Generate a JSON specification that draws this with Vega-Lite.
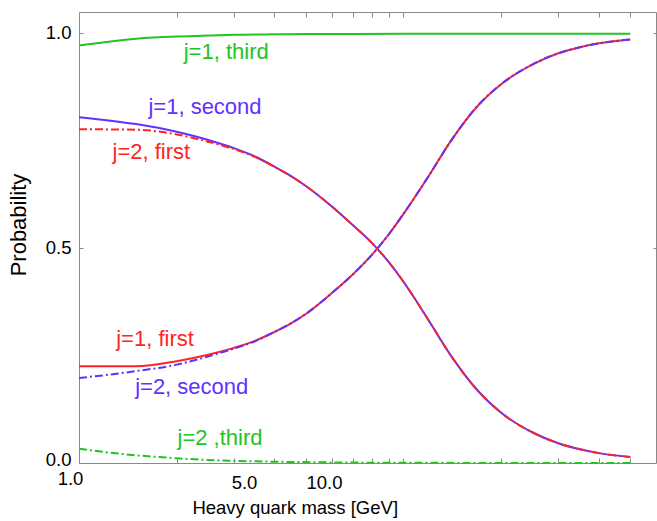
{
  "$schema": "https://vega.github.io/schema/vega-lite/v6.json",
  "autosize": {"type": "none"},
  "padding": {"left": 79, "top": 12, "right": 1, "bottom": 58},
  "width": 577,
  "height": 451,
  "background": "white",
  "config": {
    "view": {"stroke": "#8a8a8a", "strokeWidth": 1},
    "font": "Liberation Sans",
    "axis": {"grid": false, "domain": false, "tickColor": "#8a8a8a", "tickWidth": 1, "labelColor": "black", "titleColor": "black", "labelFont": "Liberation Sans", "titleFont": "Liberation Sans", "titleFontWeight": "normal"}
  },
  "datasets": {
    "curves": [
      {"s": "j=1, third", "dash": "solid", "x": 1, "y": 0.972},
      {"s": "j=1, third", "dash": "solid", "x": 1.5, "y": 0.988},
      {"s": "j=1, third", "dash": "solid", "x": 2, "y": 0.993},
      {"s": "j=1, third", "dash": "solid", "x": 2.5, "y": 0.995},
      {"s": "j=1, third", "dash": "solid", "x": 3, "y": 0.997},
      {"s": "j=1, third", "dash": "solid", "x": 4, "y": 0.998},
      {"s": "j=1, third", "dash": "solid", "x": 5, "y": 0.9985},
      {"s": "j=1, third", "dash": "solid", "x": 7, "y": 0.999},
      {"s": "j=1, third", "dash": "solid", "x": 10, "y": 0.9992},
      {"s": "j=1, third", "dash": "solid", "x": 20, "y": 0.9995},
      {"s": "j=1, third", "dash": "solid", "x": 50, "y": 0.9995},

      {"s": "j=1, second", "dash": "solid", "x": 1, "y": 0.805},
      {"s": "j=1, second", "dash": "solid", "x": 1.25, "y": 0.797},
      {"s": "j=1, second", "dash": "solid", "x": 1.5, "y": 0.789},
      {"s": "j=1, second", "dash": "solid", "x": 2, "y": 0.771},
      {"s": "j=1, second", "dash": "solid", "x": 2.5, "y": 0.752},
      {"s": "j=1, second", "dash": "solid", "x": 3, "y": 0.733},
      {"s": "j=1, second", "dash": "solid", "x": 3.5, "y": 0.713},
      {"s": "j=1, second", "dash": "solid", "x": 4, "y": 0.69},
      {"s": "j=1, second", "dash": "solid", "x": 4.5, "y": 0.668},
      {"s": "j=1, second", "dash": "solid", "x": 5, "y": 0.645},
      {"s": "j=1, second", "dash": "solid", "x": 6, "y": 0.598},
      {"s": "j=1, second", "dash": "solid", "x": 7, "y": 0.553},
      {"s": "j=1, second", "dash": "solid", "x": 8, "y": 0.512},
      {"s": "j=1, second", "dash": "solid", "x": 9, "y": 0.468},
      {"s": "j=1, second", "dash": "solid", "x": 10, "y": 0.422},
      {"s": "j=1, second", "dash": "solid", "x": 12, "y": 0.33},
      {"s": "j=1, second", "dash": "solid", "x": 14, "y": 0.25},
      {"s": "j=1, second", "dash": "solid", "x": 17, "y": 0.167},
      {"s": "j=1, second", "dash": "solid", "x": 20, "y": 0.117},
      {"s": "j=1, second", "dash": "solid", "x": 25, "y": 0.071},
      {"s": "j=1, second", "dash": "solid", "x": 30, "y": 0.046},
      {"s": "j=1, second", "dash": "solid", "x": 35, "y": 0.032},
      {"s": "j=1, second", "dash": "solid", "x": 40, "y": 0.023},
      {"s": "j=1, second", "dash": "solid", "x": 50, "y": 0.014},

      {"s": "j=1, first", "dash": "solid", "x": 1, "y": 0.225},
      {"s": "j=1, first", "dash": "solid", "x": 1.5, "y": 0.225},
      {"s": "j=1, first", "dash": "solid", "x": 2, "y": 0.237},
      {"s": "j=1, first", "dash": "solid", "x": 2.5, "y": 0.252},
      {"s": "j=1, first", "dash": "solid", "x": 3, "y": 0.268},
      {"s": "j=1, first", "dash": "solid", "x": 3.5, "y": 0.285},
      {"s": "j=1, first", "dash": "solid", "x": 4, "y": 0.305},
      {"s": "j=1, first", "dash": "solid", "x": 4.5, "y": 0.325},
      {"s": "j=1, first", "dash": "solid", "x": 5, "y": 0.347},
      {"s": "j=1, first", "dash": "solid", "x": 6, "y": 0.395},
      {"s": "j=1, first", "dash": "solid", "x": 7, "y": 0.44},
      {"s": "j=1, first", "dash": "solid", "x": 8, "y": 0.485},
      {"s": "j=1, first", "dash": "solid", "x": 9, "y": 0.532},
      {"s": "j=1, first", "dash": "solid", "x": 10, "y": 0.58},
      {"s": "j=1, first", "dash": "solid", "x": 12, "y": 0.67},
      {"s": "j=1, first", "dash": "solid", "x": 14, "y": 0.75},
      {"s": "j=1, first", "dash": "solid", "x": 17, "y": 0.833},
      {"s": "j=1, first", "dash": "solid", "x": 20, "y": 0.882},
      {"s": "j=1, first", "dash": "solid", "x": 25, "y": 0.928},
      {"s": "j=1, first", "dash": "solid", "x": 30, "y": 0.954},
      {"s": "j=1, first", "dash": "solid", "x": 35, "y": 0.968},
      {"s": "j=1, first", "dash": "solid", "x": 40, "y": 0.977},
      {"s": "j=1, first", "dash": "solid", "x": 50, "y": 0.986},

      {"s": "j=2, first", "dash": "dashdot", "x": 1, "y": 0.777},
      {"s": "j=2, first", "dash": "dashdot", "x": 1.5, "y": 0.776},
      {"s": "j=2, first", "dash": "dashdot", "x": 2, "y": 0.765},
      {"s": "j=2, first", "dash": "dashdot", "x": 2.5, "y": 0.748},
      {"s": "j=2, first", "dash": "dashdot", "x": 3, "y": 0.731},
      {"s": "j=2, first", "dash": "dashdot", "x": 3.5, "y": 0.712},
      {"s": "j=2, first", "dash": "dashdot", "x": 4, "y": 0.69},
      {"s": "j=2, first", "dash": "dashdot", "x": 4.5, "y": 0.668},
      {"s": "j=2, first", "dash": "dashdot", "x": 5, "y": 0.645},
      {"s": "j=2, first", "dash": "dashdot", "x": 6, "y": 0.598},
      {"s": "j=2, first", "dash": "dashdot", "x": 7, "y": 0.553},
      {"s": "j=2, first", "dash": "dashdot", "x": 8, "y": 0.512},
      {"s": "j=2, first", "dash": "dashdot", "x": 9, "y": 0.468},
      {"s": "j=2, first", "dash": "dashdot", "x": 10, "y": 0.422},
      {"s": "j=2, first", "dash": "dashdot", "x": 12, "y": 0.33},
      {"s": "j=2, first", "dash": "dashdot", "x": 14, "y": 0.25},
      {"s": "j=2, first", "dash": "dashdot", "x": 17, "y": 0.167},
      {"s": "j=2, first", "dash": "dashdot", "x": 20, "y": 0.117},
      {"s": "j=2, first", "dash": "dashdot", "x": 25, "y": 0.071},
      {"s": "j=2, first", "dash": "dashdot", "x": 30, "y": 0.046},
      {"s": "j=2, first", "dash": "dashdot", "x": 35, "y": 0.032},
      {"s": "j=2, first", "dash": "dashdot", "x": 40, "y": 0.023},
      {"s": "j=2, first", "dash": "dashdot", "x": 50, "y": 0.014},

      {"s": "j=2, second", "dash": "dashdot", "x": 1, "y": 0.198},
      {"s": "j=2, second", "dash": "dashdot", "x": 1.25, "y": 0.206},
      {"s": "j=2, second", "dash": "dashdot", "x": 1.5, "y": 0.214},
      {"s": "j=2, second", "dash": "dashdot", "x": 2, "y": 0.229},
      {"s": "j=2, second", "dash": "dashdot", "x": 2.5, "y": 0.248},
      {"s": "j=2, second", "dash": "dashdot", "x": 3, "y": 0.266},
      {"s": "j=2, second", "dash": "dashdot", "x": 3.5, "y": 0.284},
      {"s": "j=2, second", "dash": "dashdot", "x": 4, "y": 0.305},
      {"s": "j=2, second", "dash": "dashdot", "x": 4.5, "y": 0.325},
      {"s": "j=2, second", "dash": "dashdot", "x": 5, "y": 0.347},
      {"s": "j=2, second", "dash": "dashdot", "x": 6, "y": 0.395},
      {"s": "j=2, second", "dash": "dashdot", "x": 7, "y": 0.44},
      {"s": "j=2, second", "dash": "dashdot", "x": 8, "y": 0.485},
      {"s": "j=2, second", "dash": "dashdot", "x": 9, "y": 0.532},
      {"s": "j=2, second", "dash": "dashdot", "x": 10, "y": 0.58},
      {"s": "j=2, second", "dash": "dashdot", "x": 12, "y": 0.67},
      {"s": "j=2, second", "dash": "dashdot", "x": 14, "y": 0.75},
      {"s": "j=2, second", "dash": "dashdot", "x": 17, "y": 0.833},
      {"s": "j=2, second", "dash": "dashdot", "x": 20, "y": 0.882},
      {"s": "j=2, second", "dash": "dashdot", "x": 25, "y": 0.928},
      {"s": "j=2, second", "dash": "dashdot", "x": 30, "y": 0.954},
      {"s": "j=2, second", "dash": "dashdot", "x": 35, "y": 0.968},
      {"s": "j=2, second", "dash": "dashdot", "x": 40, "y": 0.977},
      {"s": "j=2, second", "dash": "dashdot", "x": 50, "y": 0.986},

      {"s": "j=2 ,third", "dash": "dashdot", "x": 1, "y": 0.033},
      {"s": "j=2 ,third", "dash": "dashdot", "x": 1.25, "y": 0.024},
      {"s": "j=2 ,third", "dash": "dashdot", "x": 1.5, "y": 0.018},
      {"s": "j=2 ,third", "dash": "dashdot", "x": 2, "y": 0.011},
      {"s": "j=2 ,third", "dash": "dashdot", "x": 2.5, "y": 0.007},
      {"s": "j=2 ,third", "dash": "dashdot", "x": 3, "y": 0.005},
      {"s": "j=2 ,third", "dash": "dashdot", "x": 4, "y": 0.003},
      {"s": "j=2 ,third", "dash": "dashdot", "x": 5, "y": 0.002},
      {"s": "j=2 ,third", "dash": "dashdot", "x": 7, "y": 0.001},
      {"s": "j=2 ,third", "dash": "dashdot", "x": 10, "y": 0.0005},
      {"s": "j=2 ,third", "dash": "dashdot", "x": 20, "y": 0.0002},
      {"s": "j=2 ,third", "dash": "dashdot", "x": 50, "y": 0.0001}
    ],
    "labels": [
      {"s": "j=1, third", "x": 2.842, "y": 0.94},
      {"s": "j=1, second", "x": 2.445, "y": 0.812},
      {"s": "j=2, first", "x": 1.671, "y": 0.7085},
      {"s": "j=1, first", "x": 1.715, "y": 0.272},
      {"s": "j=2, second", "x": 2.225, "y": 0.16},
      {"s": "j=2 ,third", "x": 2.72, "y": 0.0414}
    ]
  },
  "resolve": {"axis": {"x": "independent", "y": "independent"}},
  "layer": [
    {
      "data": {"name": "curves"},
      "transform": [{"filter": "datum.dash == 'solid'"}],
      "mark": {"type": "line", "strokeWidth": 2, "strokeCap": "butt", "interpolate": "monotone"},
      "encoding": {
        "x": {"field": "x", "type": "quantitative",
          "scale": {"type": "log", "domain": [1, 60], "nice": false},
          "axis": {
            "orient": "bottom",
            "values": [1, 2, 3, 4, 5, 6, 7, 8, 9, 10, 20, 30, 40, 50],
            "tickSize": -5,
            "labelExpr": "datum.value == 1 ? '1.0' : datum.value == 5 ? '5.0' : datum.value == 10 ? '10.0' : ''",
            "labelFontSize": 18.5,
            "labelAlign": "center",
            "labelBaseline": "alphabetic",
            "labelOffset": {"expr": "datum.value == 1 ? -9 : datum.value == 5 ? -61.8 : datum.value == 10 ? -79.5 : 0"},
            "labelPadding": {"expr": "datum.value == 1 ? 26.5 : 30.3"},
            "labelOverlap": false,
            "labelFlush": false,
            "labelBound": false,
            "title": "Heavy quark mass [GeV]",
            "titleFontSize": 18.5,
            "titleX": 215.7,
            "titleY": 50.7,
            "titleAlign": "center",
            "titleAnchor": null,
            "titleBaseline": "alphabetic"
          }
        },
        "y": {"field": "y", "type": "quantitative",
          "scale": {"domain": [0, 1.05], "nice": false, "zero": false},
          "axis": {
            "orient": "left",
            "values": [0, 0.5, 1],
            "format": ".1f",
            "tickSize": -4,
            "labelPadding": 12,
            "labelFontSize": 18.5,
            "labelBaseline": "middle",
            "labelOffset": {"expr": "datum.value == 0 ? -3.5 : datum.value == 1 ? -1 : -0.8"},
            "title": "Probability",
            "titleFontSize": 22,
            "titleAngle": -90,
            "titleX": -53.7,
            "titleY": 212.5,
            "titleAlign": "center",
            "titleBaseline": "alphabetic",
            "titleAnchor": null
          }
        },
        "color": {"field": "s", "type": "nominal",
          "scale": {"domain": ["j=1, third", "j=1, second", "j=2, first", "j=1, first", "j=2, second", "j=2 ,third"],
                    "range": ["#22c322", "#6230ff", "#ff2424", "#ff2424", "#6230ff", "#22c322"]},
          "legend": null},
        "detail": {"field": "s"}
      }
    },
    {
      "data": {"name": "curves"},
      "transform": [{"filter": "datum.dash == 'dashdot'"}],
      "mark": {"type": "line", "strokeWidth": 2, "strokeDash": [8, 3, 2, 3], "strokeCap": "butt", "interpolate": "monotone"},
      "encoding": {
        "x": {"field": "x", "type": "quantitative", "axis": null},
        "y": {"field": "y", "type": "quantitative", "axis": null},
        "color": {"field": "s", "type": "nominal", "legend": null},
        "detail": {"field": "s"}
      }
    },
    {
      "data": {"name": "labels"},
      "mark": {"type": "text", "fontSize": 22, "align": "center", "baseline": "alphabetic", "font": "Liberation Sans"},
      "encoding": {
        "x": {"field": "x", "type": "quantitative",
          "axis": {"orient": "top", "values": [1, 2, 3, 4, 5, 6, 7, 8, 9, 10, 20, 30, 40, 50], "tickSize": -5, "labels": false, "title": null}},
        "y": {"field": "y", "type": "quantitative",
          "axis": {"orient": "right", "values": [0.5, 1], "tickSize": -3, "labels": false, "title": null}},
        "text": {"field": "s"},
        "color": {"field": "s", "type": "nominal", "legend": null}
      }
    }
  ]
}
